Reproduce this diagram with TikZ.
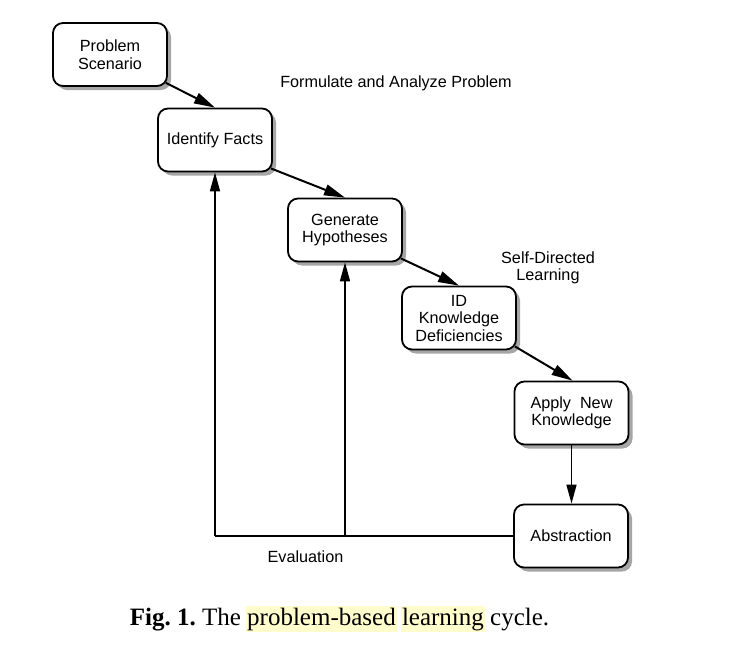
\documentclass[tikz,border=0pt]{standalone}
\usepackage{fontspec}
\setmainfont{Liberation Serif}
\newfontfamily\diafont{Liberation Sans}
\usetikzlibrary{arrows.meta,shadows}
\definecolor{hlyellow}{HTML}{FFFDCC}
\definecolor{shadowgray}{gray}{0.65}
\newcommand{\hlword}[1]{\kern-1.5pt\relax\colorbox{hlyellow}{#1}\kern-1.5pt\relax}
\frenchspacing
\begin{document}
\begin{tikzpicture}[x=1pt,y=-1pt,
  stepbox/.style={draw=black, line width=1.8pt, fill=white, rounded corners=10pt,
    minimum width=114pt, minimum height=63pt, align=center, inner sep=2pt,
    font=\diafont\fontsize{16.2}{17.5}\selectfont,
    drop shadow={shadow xshift=4pt, shadow yshift=-4pt, fill=shadowgray, opacity=1}},
  flow/.style={line width=2pt, -{Triangle[length=21pt,width=11pt]}},
  evalline/.style={line width=1.5pt},
  evalarrow/.style={line width=1.5pt, -{Triangle[length=19pt,width=10pt]}},
  lbl/.style={font=\diafont\fontsize{16.2}{17}\selectfont, align=center, inner sep=0pt},
]
\useasboundingbox (0,0) rectangle (747,657);

\node[stepbox] (ps) at (110,54.5) {Problem\\Scenario};
\node[stepbox] (if) at (215,140) {Identify Facts};
\node[stepbox] (gh) at (345,230) {Generate\\Hypotheses};
\node[stepbox] (id) at (459,318) {ID\\Knowledge\\Deficiencies};
\node[stepbox] (an) at (571.5,413) {Apply\ \ New\\Knowledge};
\node[stepbox] (ab) at (571,536) {Abstraction};

\node[lbl] (fap) at (396,83) {Formulate and Analyze Problem};
\node[lbl] (sdl) at (548,268) {Self-Directed\\Learning};
\node[lbl] (ev) at (305.5,557) {Evaluation};

\draw[flow] ([xshift=-2pt,yshift=4pt]ps.south east) -- (if.north);
\draw[flow] ([xshift=-2pt,yshift=4pt]if.south east) -- (gh.north);
\draw[flow] ([xshift=-2pt,yshift=4pt]gh.south east) -- (id.north);
\draw[flow] ([xshift=-2pt,yshift=4pt]id.south east) -- ([xshift=1pt]an.north);
\draw[evalarrow] (an.south) -- (an.south |- ab.north);

\coordinate (j1) at (ab.west -| if.south);
\coordinate (j2) at (ab.west -| gh.south);
\draw[evalline] (ab.west) -- (j1);
\draw[evalarrow] (j1) -- (if.south);
\draw[evalarrow] (j2) -- (gh.south);

\node[anchor=base, inner sep=0pt, font=\fontsize{25}{28}\selectfont] (cap) at (339.5,625)
  {\setlength{\fboxsep}{1.5pt}\textbf{Fig. 1.} The \hlword{problem-based} \hlword{learning} cycle.};
\end{tikzpicture}
\end{document}
